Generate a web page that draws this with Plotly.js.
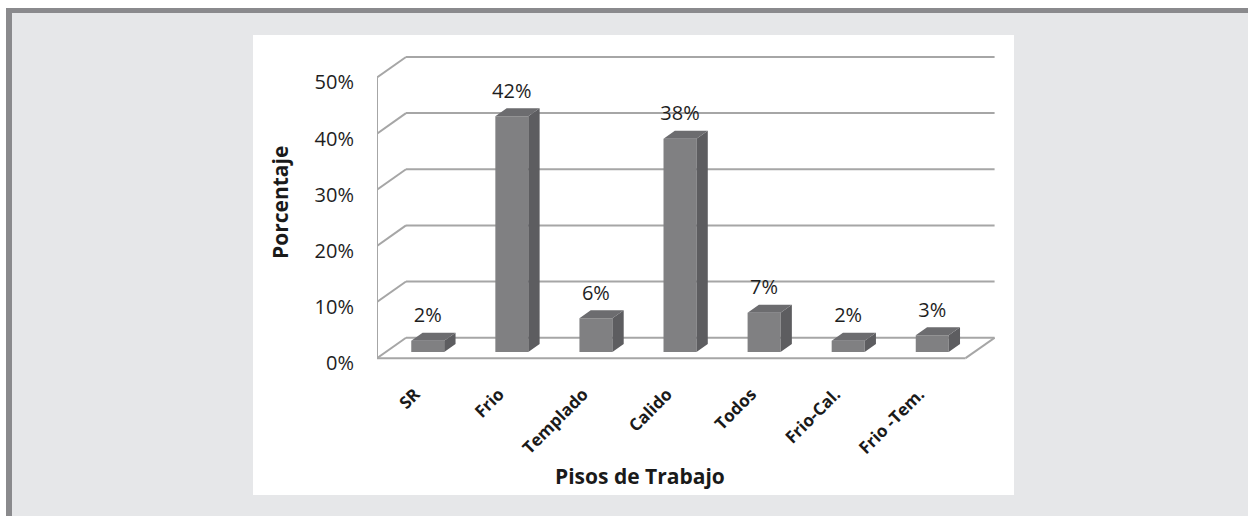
<!DOCTYPE html>
<html><head><meta charset="utf-8">
<script src="https://cdn.plot.ly/plotly-3.0.1.min.js"></script>
<style>
html,body{margin:0;padding:0;width:1248px;height:516px;overflow:hidden;background:#ffffff;}
#frame{position:absolute;left:6px;top:8px;width:1242px;height:508px;background:#e6e7e9;border-top:5px solid #8a8a8d;border-left:6px solid #8a8a8d;box-sizing:border-box;}
#chart{position:absolute;left:253px;top:35px;width:761px;height:460px;background:#ffffff;}
</style></head><body>
<div id="frame"></div>
<div id="chart"></div>
<script>
// ---- data ----
const categories = ['SR', 'Frio', 'Templado', 'Calido', 'Todos', 'Frio-Cal.', 'Frio -Tem.'];
const percentages = [2, 42, 6, 38, 7, 2, 3];
const valueLabels = ['2%', '42%', '6%', '38%', '7%', '2%', '3%'];
const yTickValues = [0, 10, 20, 30, 40, 50];
const yTickLabels = ['0%', '10%', '20%', '30%', '40%', '50%'];

// ---- pseudo-3D geometry (depth shift in axis units) ----
const DX = 0.345, DY = 3.65;      // shift for full wall depth
const ZF = 0.30, ZB = 0.69;       // bar front / back depth
const HW = 0.196;                 // half width of bar front face
const LABEL_GAP = 4.2;
const xs = categories.map((c, i) => i);
const xMin = -0.5, xMax = categories.length - 0.5;

const W = 761, H = 460, ML = 124, MR = 19, MT = 20, MB = 134;
const pw = W - ML - MR, ph = H - MT - MB;
function px2paperX(px) { return (px - ML) / pw; }
function px2paperY(py) { return (H - MB - py) / ph; }

const FONT = '"Open Sans", "Noto Sans", sans-serif';
const gridColor = '#a6a6a6';
const shapes = [];
function seg(x0, y0, x1, y1) {
  shapes.push({type: 'line', xref: 'x', yref: 'y', x0: x0, y0: y0, x1: x1, y1: y1,
    layer: 'below', line: {color: gridColor, width: 2}});
}
yTickValues.forEach(t => {
  seg(xMin, t, xMin + DX, t + DY);
  seg(xMin + DX, t + DY, xMax + DX, t + DY);
});
seg(xMin, 0, xMax, 0);
seg(xMax, 0, xMax + DX, DY);
seg(xMin, 0, xMin, yTickValues[yTickValues.length - 1]);

const base = ZF * DY;
const d = ZB - ZF;
const sideX = [], sideY = [], topX = [], topY = [];
xs.forEach((x, i) => {
  const v = percentages[i];
  const xl = x + ZF * DX - HW, xr = x + ZF * DX + HW;
  sideX.push(xr, xr + d * DX, xr + d * DX, xr, null);
  sideY.push(base, base + d * DY, base + v + d * DY, base + v, null);
  topX.push(xl, xr, xr + d * DX, xl + d * DX, null);
  topY.push(base + v, base + v, base + v + d * DY, base + v + d * DY, null);
});

const traces = [
  {type: 'bar', x: xs.map(x => x + ZF * DX), y: percentages, base: percentages.map(() => base),
   width: 2 * HW, marker: {color: '#808082', line: {width: 0}}, hoverinfo: 'skip', showlegend: false},
  {type: 'scatter', mode: 'lines', x: sideX, y: sideY, fill: 'toself', fillcolor: '#5d5d60',
   line: {width: 0, color: '#5d5d60'}, hoverinfo: 'skip', showlegend: false},
  {type: 'scatter', mode: 'lines', x: topX, y: topY, fill: 'toself', fillcolor: '#6c6c6f',
   line: {width: 0, color: '#6c6c6f'}, hoverinfo: 'skip', showlegend: false},
  {type: 'scatter', mode: 'text', x: xs.map(x => x + ZF * DX), y: percentages.map(v => v + base + LABEL_GAP),
   text: valueLabels, textposition: 'middle center',
   textfont: {family: FONT, size: 20, color: '#1e1e1e'}, hoverinfo: 'skip', showlegend: false}
];

const layout = {
  width: W, height: H,
  margin: {l: ML, r: MR, t: MT, b: MB, pad: 0},
  paper_bgcolor: '#ffffff', plot_bgcolor: 'rgba(0,0,0,0)',
  showlegend: false,
  xaxis: {range: [xMin, xMax + DX + 0.005], tickvals: xs, ticktext: categories, tickangle: -45,
    tickfont: {family: FONT, size: 17, color: '#1a1a1a', weight: 'bold'},
    showgrid: false, zeroline: false, showline: false, ticks: '', ticklabelstandoff: 19, ticklabelshift: -4, fixedrange: true},
  yaxis: {range: [-0.5, 54], tickvals: yTickValues, ticktext: yTickLabels,
    tickfont: {family: FONT, size: 20, color: '#1e1e1e'},
    showgrid: false, zeroline: false, showline: false, ticks: '', ticklabelstandoff: 22, ticklabelshift: 5, fixedrange: true},
  shapes: shapes,
  annotations: [
    {text: 'Porcentaje', xref: 'paper', yref: 'paper', x: px2paperX(27), y: px2paperY(168),
     textangle: -90, showarrow: false, xanchor: 'center', yanchor: 'middle',
     font: {family: FONT, size: 21, color: '#1a1a1a', weight: 'bold'}},
    {text: 'Pisos de Trabajo', xref: 'paper', yref: 'paper', x: px2paperX(387), y: px2paperY(441),
     showarrow: false, xanchor: 'center', yanchor: 'middle',
     font: {family: FONT, size: 21, color: '#1a1a1a', weight: 'bold'}}
  ]
};
Plotly.newPlot('chart', traces, layout, {displayModeBar: false, staticPlot: true});
</script>
</body></html>
